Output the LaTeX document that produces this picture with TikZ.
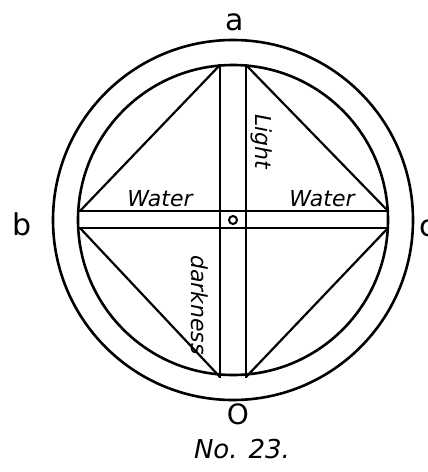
\documentclass[tikz,border=0pt]{standalone}
\usepackage{fontspec}
\setmainfont{DejaVu Sans}
\begin{document}
\begin{tikzpicture}[x=1pt,y=-1pt,
  ln/.style={line width=2.6pt,black,line cap=round},
  thin/.style={line width=2.2pt,black,line cap=round},
  hand/.style={font=\fontsize{22}{22}\selectfont\itshape,inner sep=0pt},
  lett/.style={font=\fontsize{30}{30}\selectfont,inner sep=0pt}]
\useasboundingbox (0,0) rectangle (428,472);
\fill[white] (0,0) rectangle (428,472);
\coordinate (C) at (233,220);
\draw[ln] (C) circle[radius=180];
\draw[ln] (C) circle[radius=155];
% vertical bar
\coordinate (vlt) at (220,65);
\coordinate (vlb) at (220,377);
\coordinate (vrt) at (246,65);
\coordinate (vrb) at (246,377);
% horizontal bar
\coordinate (hlt) at (80,211);
\coordinate (hrt) at (388,211);
\coordinate (hlb) at (80,228);
\coordinate (hrb) at (388,228);
\draw[thin] (vlt) -- (vlb);
\draw[thin] (vrt) -- (vrb);
\draw[thin] (hlt) -- (hrt);
\draw[thin] (hlb) -- (hrb);
% diagonals
\draw[thin] (vlt) -- (hlt);
\draw[thin] (vrt) -- (hrt);
\draw[thin] (hlb) -- (vlb);
\draw[thin] (hrb) -- (vrb);
% center small circle
\node[draw,line width=2pt,circle,minimum size=8pt,inner sep=0pt] (o) at (233,220) {};
% labels
\node[hand] (w1) at (160,199) {Water};
\node[hand] (w2) at (322,199) {Water};
\node[hand,rotate=-90] (light) at (262,142) {Light};
\node[hand,rotate=-90] (dark) at (200,305) {darkness};
\node[lett] (a) at (235,22) {a};
\node[lett] (b) at (22,224) {b};
\node[lett,anchor=west] (c) at (419,228) {c};
\node[font=\fontsize{28}{28}\selectfont,inner sep=0pt] (O) at (238,414) {O};
\node[font=\fontsize{26}{26}\selectfont\itshape,inner sep=0pt] (no) at (242,449) {No. 23.};
\end{tikzpicture}
\end{document}
